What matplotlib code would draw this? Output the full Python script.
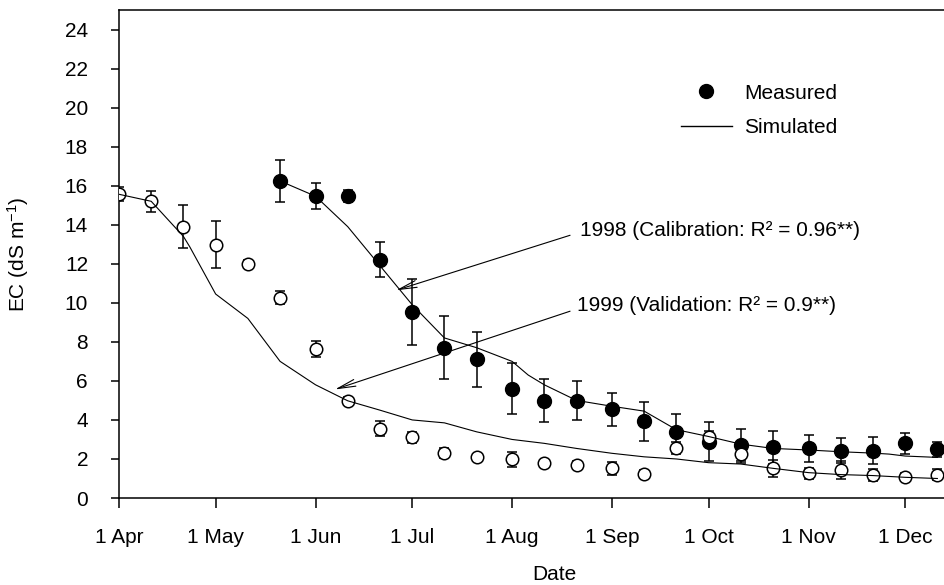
#!/usr/bin/env python3

import numpy as np
import pandas as pd
import matplotlib
matplotlib.use("Agg")
import matplotlib.pyplot as plt
from matplotlib.lines import Line2D

plt.rcParams["font.family"] = ["Liberation Sans", "DejaVu Sans"]
plt.rcParams["mathtext.fontset"] = "custom"
plt.rcParams["mathtext.rm"] = "Liberation Sans"
plt.rcParams["mathtext.it"] = "Liberation Sans:italic"

BASE_YEAR = 1998  # both seasons drawn on one Apr-Dec axis

# measured EC, 1999 (open circles, validation)
meas_1999_dates = ["04-01", "04-11", "04-21", "05-01", "05-11", "05-21", "06-01",
                   "06-11", "06-21", "07-01", "07-11", "07-21", "08-01", "08-11",
                   "08-21", "09-01", "09-11", "09-21", "10-01", "10-11", "10-21",
                   "11-01", "11-11", "11-21", "12-01", "12-11"]
meas_1999_ec = [15.56, 15.2, 13.9, 12.98, 11.98, 10.27, 7.64, 4.98, 3.56, 3.1, 2.29,
                2.08, 1.98, 1.77, 1.69, 1.52, 1.23, 2.58, 3.14, 2.25, 1.52, 1.26,
                1.43, 1.18, 1.06, 1.2]
meas_1999_err = [0.35, 0.55, 1.1, 1.2, 0.2, 0.35, 0.4, 0.2, 0.4, 0.3, 0.25, 0.2,
                 0.38, 0.2, 0.2, 0.34, 0.2, 0.3, 0.3, 0.48, 0.43, 0.3, 0.45, 0.3,
                 0.2, 0.3]

# measured EC, 1998 (filled circles, calibration)
meas_1998_dates = ["05-21", "06-01", "06-11", "06-21", "07-01", "07-11", "07-21",
                   "08-01", "08-11", "08-21", "09-01", "09-11", "09-21", "10-01",
                   "10-11", "10-21", "11-01", "11-11", "11-21", "12-01", "12-11"]
meas_1998_ec = [16.24, 15.46, 15.46, 12.2, 9.54, 7.71, 7.1, 5.61, 4.98, 4.98, 4.54,
                3.93, 3.39, 2.88, 2.71, 2.59, 2.54, 2.42, 2.42, 2.8, 2.49]
meas_1998_err = [1.1, 0.66, 0.3, 0.9, 1.7, 1.6, 1.4, 1.3, 1.1, 1.0, 0.85, 1.0,
                 0.9, 1.0, 0.8, 0.83, 0.7, 0.63, 0.7, 0.55, 0.4]

# simulated EC
sim_1999_dates = ["04-01", "04-11", "04-21", "04-23", "05-01", "05-11", "05-21",
                  "06-01", "06-11", "06-21", "07-01", "07-11", "07-21", "08-01",
                  "08-11", "08-21", "09-01", "09-11", "09-21", "10-01", "10-11",
                  "10-21", "11-01", "11-11", "11-21", "12-01", "12-11"]
sim_1999_ec = [15.56, 15.2, 13.4, 12.86, 10.45, 9.2, 7.0, 5.8, 4.98, 4.5, 4.0, 3.85,
               3.39, 3.0, 2.8, 2.54, 2.29, 2.11, 2.0, 1.81, 1.74, 1.52, 1.3, 1.2,
               1.15, 1.06, 1.0]

sim_1998_dates = ["05-21", "06-01", "06-11", "06-21", "07-01", "07-11", "07-21",
                  "08-01", "08-06", "08-11", "08-21", "09-01", "09-11", "09-21",
                  "10-01", "10-11", "10-21", "11-01", "11-11", "11-21", "11-26",
                  "12-01", "12-11"]
sim_1998_ec = [16.24, 15.46, 13.9, 11.9, 9.9, 8.2, 7.7, 7.0, 6.3, 5.8, 5.0, 4.7,
               4.45, 3.5, 3.15, 2.76, 2.54, 2.46, 2.37, 2.3, 2.25, 2.15, 2.08]

month_ticks = ["04-01", "05-01", "06-01", "07-01", "08-01", "09-01", "10-01",
               "11-01", "12-01"]
month_labels = ["1 Apr", "1 May", "1 Jun", "1 Jul", "1 Aug", "1 Sep", "1 Oct",
                "1 Nov", "1 Dec"]


def to_dates(md):
    return pd.to_datetime([f"{BASE_YEAR}-{d}" for d in md])


def day(md):
    return pd.Timestamp(f"{BASE_YEAR}-{md}")


FS = 15

fig = plt.figure(figsize=(9.45, 5.85), dpi=100)
ax = fig.add_axes([0.1259, 0.1487, 0.9206, 0.8342])

# error bars
ax.errorbar(to_dates(meas_1998_dates), meas_1998_ec, yerr=meas_1998_err, fmt="none",
            ecolor="black", elinewidth=1.1, capsize=3.6, capthick=1.1, zorder=3)
ax.errorbar(to_dates(meas_1999_dates), meas_1999_ec, yerr=meas_1999_err, fmt="none",
            ecolor="black", elinewidth=1.1, capsize=3.6, capthick=1.1, zorder=3)

# measured points
ax.plot(to_dates(meas_1998_dates), meas_1998_ec, linestyle="none", marker="o",
        markersize=10, markerfacecolor="black", markeredgecolor="black", zorder=4)
ax.plot(to_dates(meas_1999_dates), meas_1999_ec, linestyle="none", marker="o",
        markersize=9, markerfacecolor="white", markeredgecolor="black",
        markeredgewidth=1.1, zorder=5)

# simulated lines
ax.plot(to_dates(sim_1998_dates), sim_1998_ec, color="black", lw=0.8, zorder=6)
ax.plot(to_dates(sim_1999_dates), sim_1999_ec, color="black", lw=0.8, zorder=6)

# annotations
arrow_kw = dict(arrowstyle="->, head_length=1.3, head_width=0.25", color="black",
                lw=0.8, shrinkA=0, shrinkB=0)
ax.annotate("", xy=(day("06-26"), 10.64), xytext=(day("08-19"), 13.46),
            arrowprops=arrow_kw)
ax.annotate("", xy=(day("06-07"), 5.56), xytext=(day("08-19"), 9.57),
            arrowprops=arrow_kw)
ax.text(day("08-22"), 13.7, "1998 (Calibration: R\u00b2 = 0.96**)",
        fontsize=FS, ha="left", va="center")
ax.text(day("08-21"), 9.85, "1999 (Validation: R\u00b2 = 0.9**)",
        fontsize=FS, ha="left", va="center")

# legend
handles = [
    Line2D([0], [0], marker="o", color="black", linestyle="none", markersize=10,
           label="Measured"),
    Line2D([0], [0], color="black", lw=1.0, label="Simulated"),
]
ax.legend(handles=handles, loc="upper left", bbox_to_anchor=(0.646, 0.849),
          frameon=False, fontsize=FS, handlelength=2.45, handletextpad=0.58,
          labelspacing=0.74, borderpad=0, borderaxespad=0, numpoints=1)

# axes
ax.set_xlim(day("04-01"), day("12-27"))
ax.set_ylim(0, 25)
ax.set_xticks(to_dates(month_ticks))
ax.set_xticklabels(month_labels)
ax.set_yticks(np.arange(0, 25, 2))
ax.tick_params(axis="x", direction="out", length=7, width=1.1, pad=14.4, labelsize=FS)
ax.tick_params(axis="y", direction="out", length=5.8, width=1.1, pad=16.5, labelsize=FS)
for side in ["left", "bottom", "top"]:
    ax.spines[side].set_linewidth(1.1)
ax.spines["right"].set_visible(False)

ax.set_xlabel("Date", fontsize=FS, labelpad=13.5)
ax.set_ylabel(r"EC (dS m$^{\mathregular{-1}}$)", fontsize=FS, labelpad=24.5)

fig.savefig("out.png", dpi=100)
print("Wrote out.png")
